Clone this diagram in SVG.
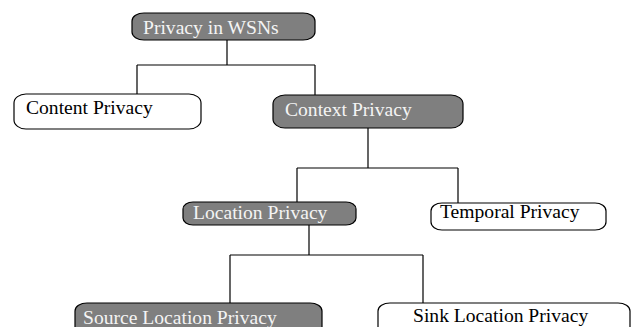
<svg xmlns="http://www.w3.org/2000/svg" width="631" height="327" viewBox="0 0 631 327">
<style>
.box{stroke:#000;stroke-width:1.2}
.dark{fill:#7f7f7f}
.light{fill:#fff}
.t{font-family:"Liberation Serif","Times New Roman",serif;font-size:19.6px}
.tw{fill:#f4f4f4}
.tb{fill:#000}
.c{stroke:#000;stroke-width:1.2;fill:none}
</style>
<rect width="631" height="327" fill="#fff"/>
<g id="connectors">
<path class="c" d="M227 40V65M137 65H315M137 65V96M315 65V96"/>
<path class="c" d="M368 128V168M297 168H458M297 168V204M458 168V205"/>
<path class="c" d="M309 225V255M230 255H423M230 255V306M423 255V305"/>
</g>
<g id="n1"><rect class="box dark" x="132" y="13" width="183" height="27" rx="12" ry="8"/><text class="t tw" x="143" y="34">Privacy in WSNs</text></g>
<g id="n2"><rect class="box light" x="14" y="94" width="187" height="35" rx="12" ry="9"/><text class="t tb" x="26" y="114">Content Privacy</text></g>
<g id="n3"><rect class="box dark" x="273" y="95" width="190" height="33" rx="12" ry="9"/><text class="t tw" x="285" y="116">Context Privacy</text></g>
<g id="n4"><rect class="box dark" x="183" y="202" width="173" height="23" rx="10" ry="7"/><text class="t tw" x="193" y="219">Location Privacy</text></g>
<g id="n5"><rect class="box light" x="431" y="203" width="175" height="27" rx="11" ry="8"/><text class="t tb" x="440" y="218">Temporal Privacy</text></g>
<g id="n6"><rect class="box dark" x="75" y="303" width="247" height="40" rx="12" ry="8"/><text class="t tw" x="83" y="324">Source Location Privacy</text></g>
<g id="n7"><rect class="box light" x="378" y="303" width="252" height="40" rx="12" ry="8"/><text class="t tb" x="413" y="322">Sink Location Privacy</text></g>
</svg>
